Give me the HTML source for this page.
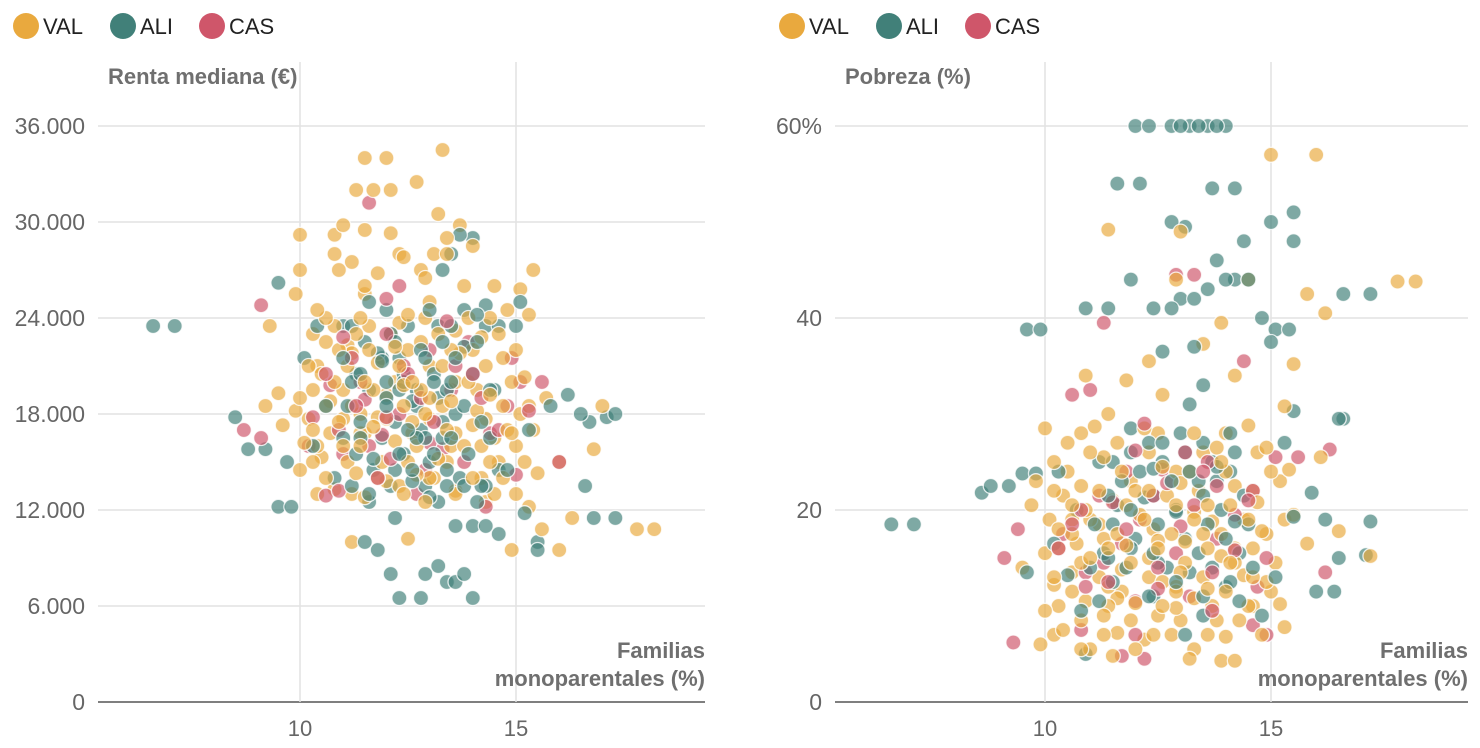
<!DOCTYPE html>
<html><head><meta charset="utf-8">
<style>
body{margin:0;background:#fff;width:1480px;height:748px;overflow:hidden;font-family:"Liberation Sans",sans-serif}
svg{display:block}
</style></head>
<body>
<svg id="c" width="1480" height="748"></svg>
<script>
// ---------- data (left: renta mediana k€, right: pobreza %) ----------
const valLeft=[[13.3,34.5],[11.5,34],[12,34],[12.7,32.5],[11.3,32],[11.7,32],[12.1,32],[13.2,30.5],[11,29.8],[11.5,29.5],[12.1,29.3],[10,29.2],[10.8,29.2],[13.7,29.8],[13.4,29],[10.8,28],[11.2,27.5],[12.4,27.8],[13.1,28],[14,28.5],[10,27],[15.4,27],[11.8,26.8],[12.9,26.5],[14.5,26],[11.5,25.5],[13,25],[15.1,25.8],[9.9,25.5],[10.4,24.5],[12.5,24.2],[14.8,24.5],[9.3,23.5],[10.8,23.5],[11.6,23.5],[12.3,23.7],[13.6,23.2],[15.3,24.2],[10.6,22.5],[11.1,22.3],[12.8,22.5],[14.2,22.8],[10.2,21],[11.8,21.2],[13.3,21],[14.7,21.5],[10.5,20.5],[12.6,20],[13.9,20],[15.2,20.3],[9.5,19.3],[10,19],[11,19.5],[12,19.2],[13,19],[14.4,19.2],[15.7,19],[17,18.5],[9.2,18.5],[9.9,18.2],[11.4,18],[12.9,18],[14.1,18.2],[15.1,18],[9.6,17.3],[10.3,17],[11.7,17.2],[13.4,17],[14.8,17],[15.4,17],[10.1,16.2],[11,16],[12.2,16.3],[13.8,16],[15,16],[16.8,15.8],[10.5,15.3],[11.9,15],[13.2,15.2],[14.6,15],[16,15],[10,14.5],[11.3,14.3],[12.7,14.2],[14.2,14],[15.5,14.3],[10.8,13.3],[12.3,13.5],[13.6,13.2],[15,13],[11.5,12.8],[12.9,12.5],[14.3,12.5],[15.3,12.2],[16.3,11.5],[17.8,10.8],[18.2,10.8],[15.6,10.8],[12.5,10.2],[14.9,9.5],[16,9.5],[11.2,10],[11.2,21.8],[12.4,19.8],[13.5,18.8],[10.7,18.8],[11.8,17.8],[12.6,17.5],[14,17.3],[10.9,17.5],[13.7,21.8],[12.2,22.2],[11.4,16.8],[13.1,14],[12,13.8],[14.5,16.5]];
// dense-block rows: [y, x-values]
const valLeftRows=[[24,[10.6,11.4,12.9,13.9,14.4]],[23,[10.3,11.3,12.1,13.2,14.6]],[22,[10.9,11.6,12.5,13.5,14.0,15.0]],[21,[10.4,11.1,12.3,13.0,14.3]],[20,[10.8,11.5,12.2,13.6,14.9]],[19.5,[10.3,11.7,12.8,14.1]],[18.5,[10.6,11.2,12.4,13.3,14.7,15.3]],[17.7,[10.2,11.0,12.0,13.0,14.3]],[16.8,[10.7,11.5,12.6,13.6,14.9]],[16,[10.4,11.4,12.7,13.5,14.2]],[15,[10.3,11.1,12.5,13.4,14.4,15.2]],[14,[10.6,11.8,13.0,14.0,14.7]],[13,[10.4,11.2,12.4,13.6,14.5]],[26,[11.5,13.8]],[27,[10.9,12.8]],[28,[12.3,13.4]]];
const aliLeft=[[6.6,23.5],[7.1,23.5],[8.5,17.8],[8.8,15.8],[9.2,15.8],[9.5,12.2],[9.8,12.2],[9.5,26.2],[9.7,15],[10.1,21.5],[10.4,23.5],[10.6,18.5],[11,23.5],[11.2,20],[11.4,16.5],[11.6,25],[11.8,21.8],[12,19],[12.1,23],[12.3,21.5],[12.5,17],[12.7,19.5],[12.9,16.5],[13.1,20],[13.2,23.5],[13.3,27],[13.5,28],[13.7,29.2],[14,29],[13.8,22.2],[14.1,24.2],[14.3,24.8],[14.6,23.5],[15,23.5],[15.1,25],[12.4,15.5],[12.6,13.8],[13,12.8],[13.4,13.5],[13.6,11],[14,11],[14.3,11],[14.6,10.5],[15.2,11.8],[15.5,10],[15.5,9.5],[12.1,8],[12.9,8],[13.2,8.5],[13.4,7.5],[13.6,7.5],[13.8,8],[14,6.5],[12.3,6.5],[12.8,6.5],[11.8,9.5],[11.5,10],[12.2,11.5],[15.8,18.5],[16.2,19.2],[16.5,18],[16.7,17.5],[17.1,17.8],[17.3,18],[16.6,13.5],[16.8,11.5],[17.3,11.5],[10.8,14],[11.6,13],[12.2,14.5],[13,15],[13.3,16.5],[14.8,14.5],[15.3,17],[14.5,19.5],[12.8,22],[11.4,20.5],[10.3,16],[12.6,18.8],[13.6,18],[12,20],[12.4,20],[13.2,19],[11.9,21.3],[13.5,20],[12.8,17],[11.7,15.2],[13.7,14],[14.2,13.5]];
const aliLeftRows=[[24.5,[12.0,13.0,13.8]],[23.5,[11.2,12.5,13.5,14.3]],[22.5,[11.5,12.2,13.3,14.1]],[21.5,[11.0,11.9,12.9,13.6]],[20.5,[11.3,12.4,13.1,14.0]],[19.5,[11.6,12.3,13.4,14.4]],[18.5,[11.1,12.0,12.7,13.8]],[17.5,[11.4,12.2,13.3,14.2]],[16.5,[11.0,11.9,12.7,13.5,14.4]],[15.5,[11.3,12.3,13.1,13.9]],[14.5,[11.7,12.6,13.4,14.6]],[13.5,[11.2,12.1,12.9,13.8,14.3]],[12.5,[11.6,13.2,14.1]]];
const casLeft=[[9.1,24.8],[8.7,17],[9.1,16.5],[10.2,16],[10.6,12.9],[11.6,31.2],[12,25.2],[12.3,26],[11,22.8],[10.7,19.8],[11.3,18.5],[12,17.8],[12.5,20.5],[13,22],[13.6,21],[14.2,19],[14.9,21.5],[15.1,20],[15.6,20],[15.3,18.2],[14.6,17],[13.3,15.8],[12.1,15.2],[11,15.5],[10.3,17.8],[11.5,18.9],[13.8,15],[14.3,12.2],[12.7,13],[10.9,13.2],[15,14.2],[16,15],[11.9,16.7],[12.8,19],[14,20.5],[13.1,17.5],[11.2,21.5],[12.4,21],[13.9,22.5],[10.9,17],[11.6,16],[12.3,18],[13.5,19.5],[13.0,16.2],[14.4,16.8],[11.8,14],[12.9,14.5],[10.6,20.5],[14.8,18.5],[12.0,23],[13.4,23.8],[11.4,20]];
const valRight=[[15,57],[16,57],[11.4,49.2],[13,49],[12.9,44],[14.5,44],[15.8,42.5],[16.2,40.5],[17.8,43.8],[18.2,43.8],[13.9,39.5],[13.5,37.3],[12.3,35.5],[10.9,34],[11.8,33.5],[14.2,34],[15.5,35.2],[11.4,30],[12.6,32],[15.3,30.8],[10,28.5],[11.1,28.7],[12.2,28.5],[13.3,28],[14.5,28.8],[10.5,27],[11.6,27],[13.8,26.5],[14.9,26.5],[16.1,25.5],[10.2,25],[11.3,25.5],[12.6,24.5],[13.9,25],[15.4,24.2],[9.8,23],[10.8,22.5],[11.9,23],[13,22.8],[14.2,22.5],[15.2,23],[10.4,21.5],[11.5,21],[12.7,21.5],[13.6,20.5],[14.7,20.8],[9.7,20.5],[10.9,20],[12.1,19.5],[13.3,19.8],[14.5,19],[15.5,19.5],[10.3,18],[11.2,18.5],[12.4,18],[13.5,17.5],[14.8,17.8],[16.5,17.8],[10.7,16.5],[11.8,16.3],[13.1,16.7],[14.2,16],[15.8,16.5],[10,15.5],[11,15],[12.3,15],[13.9,15.2],[9.5,14],[10.6,13.5],[11.7,13.8],[13,13.5],[14.4,13.2],[17.2,15.2],[10.2,12.2],[11.4,12],[12.6,12.5],[13.6,11.8],[14.9,12.5],[10.9,10.5],[12,10.3],[13.3,10.8],[14.5,10],[15.2,10.2],[10,9.5],[11.3,9],[12.5,9],[13.8,8.5],[15.3,7.8],[10.4,7.5],[11.6,7.2],[12.8,7],[14,6.8],[9.9,6],[11,5.5],[11.5,4.8],[13.2,4.5],[13.9,4.3],[14.2,4.3],[12.2,6.5],[11.3,17],[12.5,16.8],[13.7,18.8],[12,22],[13.2,24],[11.6,10.8],[12.9,9.8],[14.1,14.5],[10.6,19],[12.9,12]];
const valRightRows=[[28,[10.8,12.5,14.0]],[26,[11.0,12.3,13.5,14.7]],[24,[10.5,11.7,12.9,14.0,15.0]],[22,[10.2,11.2,12.3,13.4,14.6]],[20.5,[10.6,11.8,12.9,14.1]],[19,[10.1,11.0,12.2,13.3,14.4,15.3]],[17.5,[10.6,11.6,12.8,13.9,14.9]],[16,[10.3,11.4,12.5,13.6,14.6]],[14.5,[10.8,11.9,13.1,14.2,15.1]],[13,[10.2,11.2,12.3,13.5,14.6]],[11.5,[10.6,11.7,12.9,14.0,15.0]],[10,[10.3,11.4,12.6,13.7,14.6]],[8.5,[10.8,11.9,13.0,14.3]],[7,[10.2,11.3,12.4,13.6,14.8]],[5.5,[10.8,12.0,13.3]]];
const aliRight=[[6.6,18.5],[7.1,18.5],[8.6,21.8],[8.8,22.5],[9.2,22.5],[9.5,23.8],[9.8,23.8],[9.6,38.8],[9.9,38.8],[9.6,13.5],[10.9,5],[11.4,41],[11.9,44],[11.6,54],[12.1,54],[12,60],[12.3,60],[12.8,60],[13,60],[13.2,60],[13.4,60],[13.6,60],[13.8,60],[14,60],[12.8,50],[13.1,49.5],[13.7,53.5],[14.2,53.5],[15.5,51],[15,50],[13.8,46],[14.4,48],[15.5,48],[12.4,41],[12.8,41],[13,42],[13.3,42],[13.6,43],[14,44],[14.2,44],[14.5,44],[16.6,42.5],[17.2,42.5],[15.1,38.8],[15.4,38.8],[15,37.5],[13.3,37],[12.6,36.5],[10.9,41],[14.8,40],[13.5,33],[13.2,31],[12.6,27],[11.9,28.5],[13,28],[14.1,28],[11.2,25],[10.3,24],[12.4,24.3],[13.8,24.5],[15.5,30.3],[15.3,27],[16.5,29.5],[16.6,29.5],[15.9,21.8],[15.5,19.3],[16.2,19],[17.2,18.8],[17.1,15.3],[16.5,15],[16.4,11.5],[16,11.5],[15.1,13],[14,12],[13.2,13.5],[12.5,14.5],[11.9,16],[11.1,18.5],[10.7,20],[10.5,13.2],[11.2,10.5],[12.4,11],[13.5,9],[14.3,10.5],[14.8,9],[10.2,16.5],[11.6,20.5],[12.9,19.8],[13.4,23],[14.2,18.8],[12.2,21.3],[11.4,15],[10.8,9.5],[13.1,7]];
const aliRightRows=[[27,[12.3,13.5]],[26,[11.9,13.1,14.2]],[25,[11.5,12.6,13.7]],[24,[12.1,13.2,14.1]],[23,[11.7,12.8,13.8]],[21.5,[11.4,12.4,13.5,14.4]],[20,[11.9,12.9,13.9]],[18.5,[11.5,12.5,13.6,14.5]],[17,[12.0,13.1,14.0]],[15.5,[11.3,12.4,13.4,14.3]],[14,[11.0,11.8,12.7,13.7,14.6]],[12.5,[11.5,12.9,14.1]],[11,[12.3,13.5]]];
const casRight=[[12.9,44.5],[13.3,44.5],[14.4,35.5],[11.3,39.5],[10.6,32],[11,32.5],[12.6,24.2],[12,26.2],[13.1,26],[11.5,20.8],[10.8,20],[12.4,21.5],[13.8,22.5],[14.6,22],[15.1,25.5],[15.6,25.5],[16.3,26.3],[14.2,19.5],[13,18.3],[11.8,18],[10.4,17.5],[9.4,18],[9.1,15],[10.3,16],[11.3,14.5],[12.5,14],[13.7,13.5],[14.9,15],[16.2,13.5],[10.9,12],[12,10.5],[13.2,11],[9.3,6.2],[11.7,4.8],[12.2,4.5],[14.6,8],[14.9,7],[10.8,7.5],[13.5,24],[12.2,29],[11.8,24],[12.7,22.8],[13.6,25],[11.2,21.5],[12.1,19],[13.3,20.5],[14.5,21],[10.6,18.5],[11.7,16.5],[12.9,15.5],[13.8,17],[14.7,12],[11.4,12.5],[12.5,11.8],[13.7,9.5],[12.0,7],[10.9,13.5],[14.2,15.8]];
const xTicks=[10,15];
const yTicksLeft=[0,6,12,18,24,30,36];
const yLabelsLeft=["0","6.000","12.000","18.000","24.000","30.000","36.000"];
const yTicksRight=[0,20,40,60];
const yLabelsRight=["0","20","40","60%"];

const NS="http://www.w3.org/2000/svg";
const svg=document.getElementById('c');
const COL={VAL:"#E9A93E",ALI:"#418079",CAS:"#CF566A"};
function mk(tag,attrs,parent){const e=document.createElementNS(NS,tag);for(const k in attrs)e.setAttribute(k,attrs[k]);(parent||svg).appendChild(e);return e;}
function expand(pts,rows){const out=pts.slice();rows.forEach(r=>r[1].forEach(x=>out.push([x,r[0]])));return out;}

function legend(x0,g){
  const offs=[0,97,186];
  ["VAL","ALI","CAS"].forEach((k,i)=>{
    const gg=mk('g',{},g);
    
    
    const cx=x0+offs[i];
    mk('circle',{cx:cx,cy:26,r:13,fill:COL[k]},gg);
    const t=mk('text',{x:cx+17,y:34,'font-size':22,fill:'#222'},gg);t.textContent=k;
  });
}

function chart(opt){
  const g=mk('g',{});
  
  
  const sx=v=>opt.x10+(v-10)*opt.kx;
  const sy=v=>702-v*opt.ky;
  legend(opt.legX,g);
  opt.yt.forEach((v,i)=>{
    const l=mk('line',{x1:opt.left,x2:opt.right,y1:sy(v),y2:sy(v),stroke:v===0?'#333':'#e2e2e2','stroke-width':v===0?1.3:1.5},g);
    
    
    const t=mk('text',{x:opt.left-13,y:sy(v)+8,'text-anchor':'end','font-size':23,fill:'#666'},g);
    
    
    t.textContent=opt.yl[i];
  });
  xTicks.forEach(v=>{
    const l=mk('line',{x1:sx(v),x2:sx(v),y1:62,y2:702,stroke:'#e2e2e2','stroke-width':1.5},g);
    
    
    const t=mk('text',{x:sx(v),y:736,'text-anchor':'middle','font-size':22,fill:'#666'},g);
    
    
    t.textContent=v;
  });
  const yt=mk('text',{x:opt.left+10,y:84,'font-size':22,'font-weight':'bold',fill:'#6f6f6f'},g);
  
  
  yt.textContent=opt.ytitle;
  const xt=mk('text',{x:opt.right,y:658,'text-anchor':'end','font-size':22,'font-weight':'bold',fill:'#6f6f6f'},g);
  
  
  const s1=mk('tspan',{x:opt.right},xt);s1.textContent='Familias';
  const s2=mk('tspan',{x:opt.right,dy:28},xt);s2.textContent='monoparentales (%)';
  const series=[["VAL",opt.val],["ALI",opt.ali],["CAS",opt.cas]];
  const pts=[];
  series.forEach(([k,arr])=>arr.forEach(p=>pts.push([k,p])));
  pts.sort((a,b)=>((a[1][0]*7.3+a[1][1]*3.1)%1)-((b[1][0]*7.3+b[1][1]*3.1)%1));
  pts.forEach(([k,p])=>{
    const c=mk('circle',{cx:sx(p[0]),cy:sy(p[1]),r:7.5,fill:COL[k],'fill-opacity':0.68,stroke:'#fff','stroke-opacity':0.8,'stroke-width':1.3},g);
    
    
  });
}
chart({name:'renta-chart',left:98,right:705,x10:300,kx:43.2,ky:16,yt:yTicksLeft,yl:yLabelsLeft,ytitle:'Renta mediana (€)',legX:26,val:expand(valLeft,valLeftRows),ali:expand(aliLeft,aliLeftRows),cas:casLeft});
chart({name:'pobreza-chart',left:835,right:1468,x10:1045,kx:45.2,ky:9.6,yt:yTicksRight,yl:yLabelsRight,ytitle:'Pobreza (%)',legX:792,val:expand(valRight,valRightRows),ali:expand(aliRight,aliRightRows),cas:casRight});
</script>
</body></html>
